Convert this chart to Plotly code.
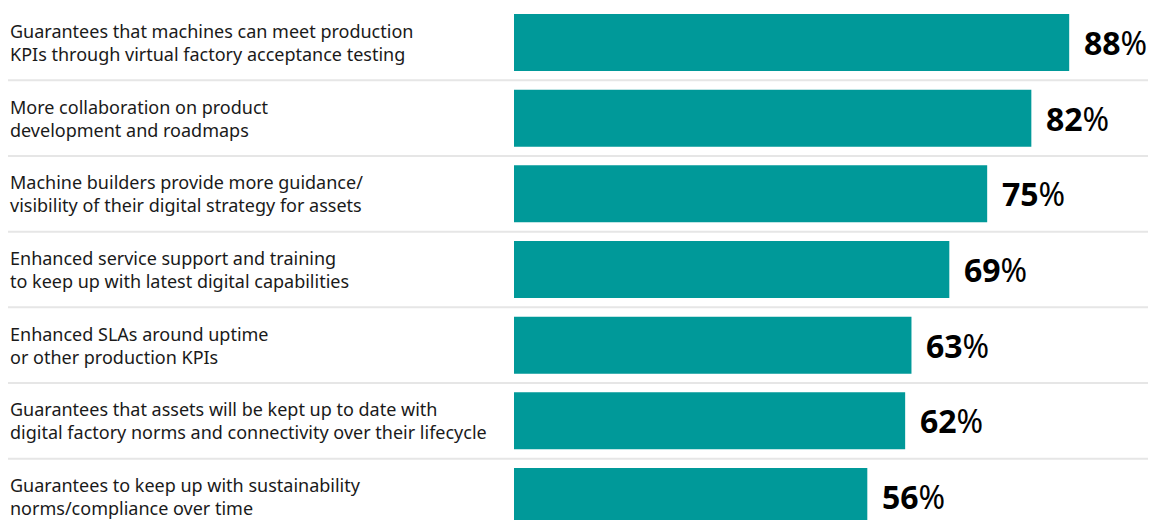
import plotly.graph_objects as go

categories = [
    "Guarantees that machines can meet production<br>KPIs through virtual factory acceptance testing",
    "More collaboration on product<br>development and roadmaps",
    "Machine builders provide more guidance/<br>visibility of their digital strategy for assets",
    "Enhanced service support and training<br>to keep up with latest digital capabilities",
    "Enhanced SLAs around uptime<br>or other production KPIs",
    "Guarantees that assets will be kept up to date with<br>digital factory norms and connectivity over their lifecycle",
    "Guarantees to keep up with sustainability<br>norms/compliance over time",
]
values = [88, 82, 75, 69, 63, 62, 56]

W, H = 1155, 520
positions = list(range(len(values)))

fig = go.Figure()
fig.add_trace(go.Bar(
    x=values, y=positions, orientation="h",
    marker=dict(color="#009999", line=dict(width=0)),
    width=0.753, hoverinfo="skip",
))

annotations = []
for i, (c, v) in enumerate(zip(categories, values)):
    annotations.append(dict(
        x=8 / W, xref="paper", y=i, yref="y", text=c, showarrow=False,
        xanchor="left", yanchor="middle", align="left",
        font=dict(family="Noto Sans", size=18, color="#1a1a1a"),
    ))
    annotations.append(dict(
        x=v, xref="x", y=i, yref="y", text=f"<b>{v}</b>%", showarrow=False,
        xanchor="left", yanchor="middle", xshift=13,
        font=dict(family="Noto Sans", size=32, color="#000000"),
    ))

shapes = []
for i in range(len(values) - 1):
    shapes.append(dict(
        type="line", xref="paper", yref="y",
        x0=8 / W, x1=1148 / W, y0=i + 0.5, y1=i + 0.5,
        line=dict(color="#e6e6e6", width=2), layer="below",
    ))

fig.update_layout(
    width=W, height=H,
    margin=dict(l=0, r=0, t=0, b=0),
    paper_bgcolor="white", plot_bgcolor="white",
    showlegend=False,
    xaxis=dict(domain=[514 / W, 1], range=[0, 101.6], visible=False, fixedrange=True),
    yaxis=dict(range=[6.3106, -0.5617], visible=False, fixedrange=True),
    annotations=annotations, shapes=shapes,
)

fig.write_html(
    "out.html",
    config={"displayModeBar": False},
    post_script="document.body.style.margin='0';document.body.style.overflow='hidden';",
)
